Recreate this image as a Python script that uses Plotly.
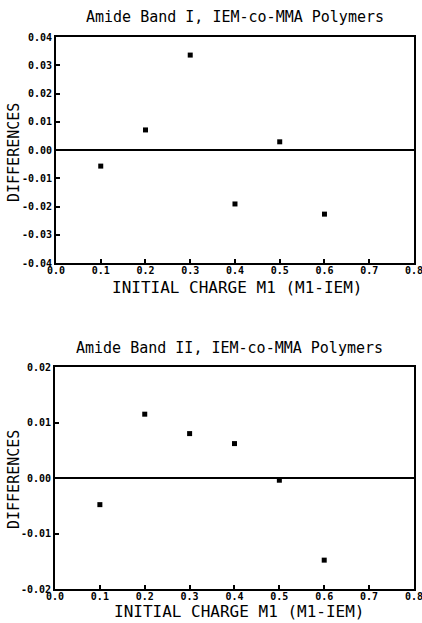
import plotly.graph_objects as go

# Data
charge_m1 = [0.1, 0.2, 0.3, 0.4, 0.5, 0.6]
diff_band1 = [-0.0057, 0.0071, 0.0336, -0.0191, 0.0029, -0.0227]
diff_band2 = [-0.0048, 0.0115, 0.0080, 0.0062, -0.0004, -0.0148]

x_ticks = [0.0, 0.1, 0.2, 0.3, 0.4, 0.5, 0.6, 0.7, 0.8]
y_ticks1 = [-0.04, -0.03, -0.02, -0.01, 0.00, 0.01, 0.02, 0.03, 0.04]
y_ticks2 = [-0.02, -0.01, 0.00, 0.01, 0.02]

title1 = "Amide Band I, IEM-co-MMA Polymers"
title2 = "Amide Band II, IEM-co-MMA Polymers"
xtitle = "INITIAL CHARGE M1 (M1-IEM)"
ytitle = "DIFFERENCES"

W, H = 422, 623
fig = go.Figure()

marker = dict(symbol="square", size=5, color="black")
fig.add_trace(go.Scatter(x=charge_m1, y=diff_band1, mode="markers", marker=marker,
                         xaxis="x", yaxis="y", showlegend=False, cliponaxis=False))
fig.add_trace(go.Scatter(x=charge_m1, y=diff_band2, mode="markers", marker=marker,
                         xaxis="x2", yaxis="y2", showlegend=False, cliponaxis=False))

tickfont = dict(family="DejaVu Sans Mono", size=10, color="black", weight="bold")
axis_common = dict(showgrid=False, showline=True, linewidth=2, linecolor="black",
                   mirror=True, ticks="inside", ticklen=4, tickwidth=1.5,
                   tickcolor="black", tickfont=tickfont, zeroline=False,
                   automargin=False, ticklabeloverflow="allow")

def px_x(p):
    return p / W

def px_y(p):
    return 1 - p / H

fig.update_layout(
    width=W, height=H,
    margin=dict(l=0, r=0, t=0, b=0),
    paper_bgcolor="white", plot_bgcolor="white",
    xaxis=dict(domain=[px_x(56), px_x(414)], range=[0, 0.8001], tickvals=x_ticks,
               ticktext=[f"{v:.1f}" for v in x_ticks], anchor="y",
               ticklabelstandoff=-3, **axis_common),
    yaxis=dict(domain=[px_y(263), px_y(37)], range=[-0.04, 0.04], tickvals=y_ticks1,
               ticktext=[f"{v:.2f}" for v in y_ticks1], anchor="x", **axis_common),
    xaxis2=dict(domain=[px_x(55), px_x(414)], range=[0, 0.8001], tickvals=x_ticks,
                ticktext=[f"{v:.1f}" for v in x_ticks], anchor="y2",
                ticklabelstandoff=-3, **axis_common),
    yaxis2=dict(domain=[px_y(589), px_y(367)], range=[-0.02, 0.02], tickvals=y_ticks2,
                ticktext=[f"{v:.2f}" for v in y_ticks2], anchor="x2", **axis_common),
)

# zero lines
fig.add_shape(type="line", xref="x domain", yref="y", x0=0, x1=1, y0=0, y1=0,
              line=dict(color="black", width=2))
fig.add_shape(type="line", xref="x2 domain", yref="y2", x0=0, x1=1, y0=0, y1=0,
              line=dict(color="black", width=2))

tfont = dict(family="DejaVu Sans Mono", size=15, color="black")
afont = dict(family="DejaVu Sans Mono", size=16, color="black")
yfont = dict(family="DejaVu Sans Mono", size=15, color="black")

ann = [
    dict(text=title1, x=px_x(235), y=px_y(17), font=tfont),
    dict(text=title2, x=px_x(230), y=px_y(348), font=tfont),
    dict(text=xtitle, x=px_x(237), y=px_y(287), font=afont),
    dict(text=xtitle, x=px_x(239), y=px_y(611), font=afont),
    dict(text=ytitle, x=px_x(14), y=px_y(153), font=yfont, textangle=-90),
    dict(text=ytitle, x=px_x(14), y=px_y(480), font=yfont, textangle=-90),
]
for a in ann:
    fig.add_annotation(xref="paper", yref="paper", xanchor="center", yanchor="middle",
                       showarrow=False, **a)

fig.write_html("out.html")
